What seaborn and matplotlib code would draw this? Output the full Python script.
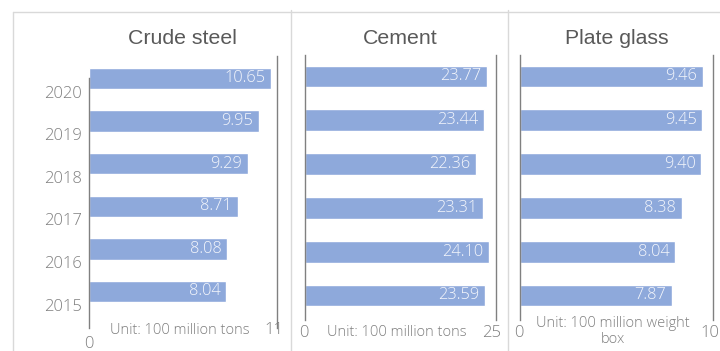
import matplotlib
matplotlib.use("Agg")
import matplotlib.pyplot as plt
from matplotlib.lines import Line2D
import seaborn as sns
import pandas as pd

# Output of three building materials, 2015-2020
years = ["2020", "2019", "2018", "2017", "2016", "2015"]
crude_steel = [10.65, 9.95, 9.29, 8.71, 8.08, 8.04]
cement = [23.77, 23.44, 22.36, 23.31, 24.10, 23.59]
plate_glass = [9.46, 9.45, 9.40, 8.38, 8.04, 7.87]

titles = ["Crude steel", "Cement", "Plate glass"]
axis_max = [11, 25, 10]
units = ["Unit: 100 million tons", "Unit: 100 million tons",
         "Unit: 100 million weight\nbox"]

sns.set_theme(style="white")
plt.rcParams["font.family"] = ["Open Sans", "DejaVu Sans"]

BAR = "#8EA9DB"
TICK = "#7F7F7F"
W, H = 720, 351

fig = plt.figure(figsize=(W / 100, H / 100), dpi=100)


def rect(x0, x1, y0, y1):
    return [x0 / W, 1 - y1 / H, (x1 - x0) / W, (y1 - y0) / H]


# panel rectangles in pixels: (left, right, top, bottom) and y-limits
panels = [
    dict(px=(89, 277, 56, 328), ylim=(5.857, -0.528)),
    dict(px=(305, 496, 55, 320), ylim=(5.56, -0.49)),
    dict(px=(520, 713, 55, 320), ylim=(5.56, -0.49)),
]
series = [crude_steel, cement, plate_glass]
title_x = [182, 400, 617]

for k, (p, vals) in enumerate(zip(panels, series)):
    ax = fig.add_axes(rect(*p["px"]))
    df = pd.DataFrame({"year": years, "value": vals})
    sns.barplot(data=df, x="value", y="year", order=years, orient="h",
                color=BAR, saturation=1, width=0.5, ax=ax)
    ax.set_xlim(0, axis_max[k])
    ax.set_ylim(*p["ylim"])
    ax.set_xlabel("")
    ax.set_ylabel("")
    ax.set_xticks([])
    for s in ("top", "bottom"):
        ax.spines[s].set_visible(False)
    for s in ("left", "right"):
        ax.spines[s].set_color("#808080")
        ax.spines[s].set_linewidth(1.0)
    if k == 0:
        ax.spines["left"].set_bounds(p["ylim"][0], 0)
        ax.set_yticks([i + 0.31 for i in range(len(years))])
        ax.set_yticklabels(years, fontsize=12, color=TICK, fontweight="light")
        ax.tick_params(axis="y", length=0, pad=5)
    else:
        ax.set_yticks([])

    # value labels inside the bar ends
    for i, v in enumerate(vals):
        ax.annotate(f"{v:.2f}", xy=(v, i), xytext=(-4, 0),
                    textcoords="offset points", ha="right", va="center",
                    fontsize=11.8, color="#F5F7FC", fontweight="light")

    tr = ax.get_xaxis_transform()
    x0, x1, y0, y1 = p["px"]
    hgt = y1 - y0
    scale = (x1 - x0) / axis_max[k]

    def ypos(pix):
        return (y1 - pix) / hgt

    if k == 0:
        ax.text(0, ypos(344), "0", transform=tr, ha="center", va="center",
                fontsize=12, color=TICK, fontweight="light")
        ax.text((274 - x0) / scale, ypos(330), "11", transform=tr, ha="center",
                va="center", fontsize=12, color=TICK, fontweight="light")
        ax.text((180 - x0) / scale, ypos(330), units[k], transform=tr,
                ha="center", va="center", fontsize=10.5, color=TICK,
                fontweight="light")
    elif k == 1:
        ax.text(-0.1, ypos(333), "0", transform=tr, ha="center", va="center",
                fontsize=12, color=TICK, fontweight="light")
        ax.text((492 - x0) / scale, ypos(333), "25", transform=tr,
                ha="center", va="center", fontsize=12, color=TICK,
                fontweight="light")
        ax.text((397 - x0) / scale, ypos(333), units[k], transform=tr,
                ha="center", va="center", fontsize=10.5, color=TICK,
                fontweight="light")
    else:
        ax.text(-0.05, ypos(333), "0", transform=tr, ha="center", va="center",
                fontsize=12, color=TICK, fontweight="light")
        ax.text((710 - x0) / scale, ypos(333), "10", transform=tr,
                ha="center", va="center", fontsize=12, color=TICK,
                fontweight="light")
        ax.text((613 - x0) / scale, ypos(331.5), units[k], transform=tr,
                ha="center", va="center", fontsize=10.5, color=TICK,
                fontweight="light", linespacing=1.1)

    fig.text(title_x[k] / W, 1 - 38 / H, titles[k], ha="center", va="center",
             fontsize=15.3, color="#595959", family=["Liberation Sans"])

# outer frame and panel separators
frame = "#D9D9D9"
fig.add_artist(Line2D([13 / W, 1], [1 - 12 / H] * 2, color=frame, lw=1))
fig.add_artist(Line2D([13 / W] * 2, [0, 1 - 12 / H], color=frame, lw=1))
for sx in (291, 508):
    fig.add_artist(Line2D([sx / W] * 2, [0, 1 - 10 / H], color=frame, lw=1))

fig.savefig("out.png", dpi=100)
